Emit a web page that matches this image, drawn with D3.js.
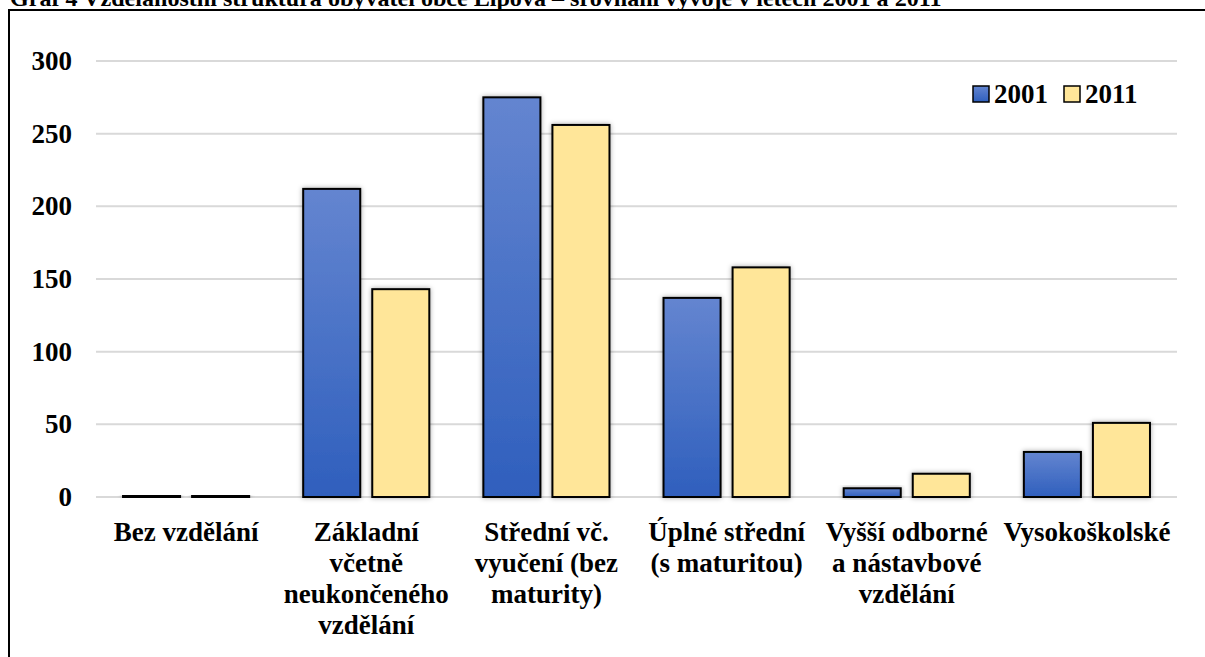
<!DOCTYPE html>
<html>
<head>
<meta charset="utf-8">
<script src="https://d3js.org/d3.v7.min.js"></script>
<style>
    body { margin: 0; background: #fff; }
    svg text { font-family: "Liberation Serif", "Times New Roman", serif; font-weight: bold; fill: #000; }
</style>
</head>
<body>
<div id="chart"></div>
<script>
/*
    Grouped bar chart - education structure 2001 vs 2011
 */

var titleText = "Graf 4 Vzdělanostní struktura obyvatel obce Lipová – srovnání vývoje v letech 2001 a 2011";

// category labels, already split into lines as in the picture
var categories = [
    ["Bez vzdělání"],
    ["Základní", "včetně", "neukončeného", "vzdělání"],
    ["Střední vč.", "vyučení (bez", "maturity)"],
    ["Úplné střední", "(s maturitou)"],
    ["Vyšší odborné", "a nástavbové", "vzdělání"],
    ["Vysokoškolské"]
];

var seriesNames = ["2001", "2011"];
var values2001 = [1, 212, 275, 137, 6, 31];
var values2011 = [1, 143, 256, 158, 16, 51];
var yTicks = [0, 50, 100, 150, 200, 250, 300];

var width = 1205, height = 657;
var margin = {top: 61, right: 28, bottom: 160, left: 96};

var svg = d3.select("#chart").append("svg")
    .attr("width", width)
    .attr("height", height);

var defs = svg.append("defs");

// blue bars get a top-light to bottom-dark gradient
var grad = defs.append("linearGradient")
    .attr("id", "blueGrad")
    .attr("x1", 0).attr("y1", 0).attr("x2", 0).attr("y2", 1);
grad.append("stop").attr("offset", "0%").attr("stop-color", "#6485d0");
grad.append("stop").attr("offset", "100%").attr("stop-color", "#2f5fbd");

var shadow = defs.append("filter")
    .attr("id", "barShadow")
    .attr("x", "-30%").attr("y", "-30%").attr("width", "160%").attr("height", "160%");
shadow.append("feDropShadow")
    .attr("dx", 0).attr("dy", 0)
    .attr("stdDeviation", 2.5)
    .attr("flood-color", "#000")
    .attr("flood-opacity", 0.35);

var colors = ["url(#blueGrad)", "#ffe699"];

// frame and title (title is cut off at the top edge)
svg.append("rect")
    .attr("x", 9).attr("y", 10)
    .attr("width", width + 20).attr("height", height + 20)
    .attr("fill", "none")
    .attr("stroke", "#000")
    .attr("stroke-width", 2);

var title = svg.append("text")
    .attr("x", 10)
    .attr("y", 6)
    .style("font-size", "20px")
    .text(titleText);
// fit the title to the width it takes in the picture
var tw = title.node().getComputedTextLength();
title.style("font-size", (20 * 932 / tw) + "px");

var plotW = width - margin.left - margin.right;
var zeroY = 497;

var x0 = d3.scaleBand()
    .domain(d3.range(categories.length))
    .range([margin.left, margin.left + plotW])
    .paddingInner(0.3)
    .paddingOuter(0.15);

var x1 = d3.scaleBand()
    .domain(seriesNames)
    .range([0, x0.bandwidth()])
    .paddingInner(0.174);

var y = d3.scaleLinear()
    .domain([0, 300])
    .range([zeroY, margin.top]);

// gridlines
svg.append("g")
    .attr("class", "grid")
    .selectAll("line")
    .data(yTicks)
    .enter().append("line")
    .attr("x1", margin.left)
    .attr("x2", margin.left + plotW)
    .attr("y1", function(d) { return y(d); })
    .attr("y2", function(d) { return y(d); })
    .attr("stroke", "#d9d9d9")
    .attr("stroke-width", 2);

// y axis labels
var yAxis = d3.axisLeft(y)
    .tickValues(yTicks)
    .tickSize(0)
    .tickPadding(0);

var yg = svg.append("g")
    .attr("transform", "translate(72,0)")
    .call(yAxis);
yg.select(".domain").remove();
yg.selectAll("text")
    .attr("font-family", null)
    .style("font-size", "27px");

// bars
var data = categories.map(function(c, i) {
    return {cat: i, vals: [values2001[i], values2011[i]]};
});

var groups = svg.selectAll(".group")
    .data(data)
    .enter().append("g")
    .attr("class", "group")
    .attr("transform", function(d) { return "translate(" + x0(d.cat) + ",0)"; });

groups.selectAll("rect")
    .data(function(d) {
        return d.vals.map(function(v, k) { return {series: seriesNames[k], k: k, value: v}; });
    })
    .enter().append("rect")
    .attr("x", function(d) { return x1(d.series); })
    .attr("y", function(d) { return y(d.value); })
    .attr("width", x1.bandwidth())
    .attr("height", function(d) { return zeroY - y(d.value); })
    .attr("fill", function(d) { return colors[d.k]; })
    .attr("stroke", "#000")
    .attr("stroke-width", 2)
    .attr("filter", "url(#barShadow)");

// category labels
var catLabels = svg.selectAll(".catLabel")
    .data(categories)
    .enter().append("text")
    .attr("class", "catLabel")
    .attr("text-anchor", "middle")
    .style("font-size", "27px");

catLabels.selectAll("tspan")
    .data(function(d, i) { return d.map(function(line) { return {line: line, i: i}; }); })
    .enter().append("tspan")
    .attr("x", function(d) { return x0(d.i) + x0.bandwidth() / 2; })
    .attr("y", function(d, j) { return 541 + j * 31; })
    .text(function(d) { return d.line; });

// legend
var legend = svg.append("g")
    .attr("class", "legend")
    .attr("transform", "translate(973,86)");

var legItems = legend.selectAll("g")
    .data(seriesNames)
    .enter().append("g")
    .attr("transform", function(d, i) { return "translate(" + (i * 91) + ",0)"; });

legItems.append("rect")
    .attr("width", 16).attr("height", 16)
    .attr("fill", function(d, i) { return colors[i]; })
    .attr("stroke", "#000")
    .attr("stroke-width", 1.5);

legItems.append("text")
    .attr("x", 21)
    .attr("y", 17)
    .style("font-size", "27px")
    .text(function(d) { return d; });
</script>
</body>
</html>
